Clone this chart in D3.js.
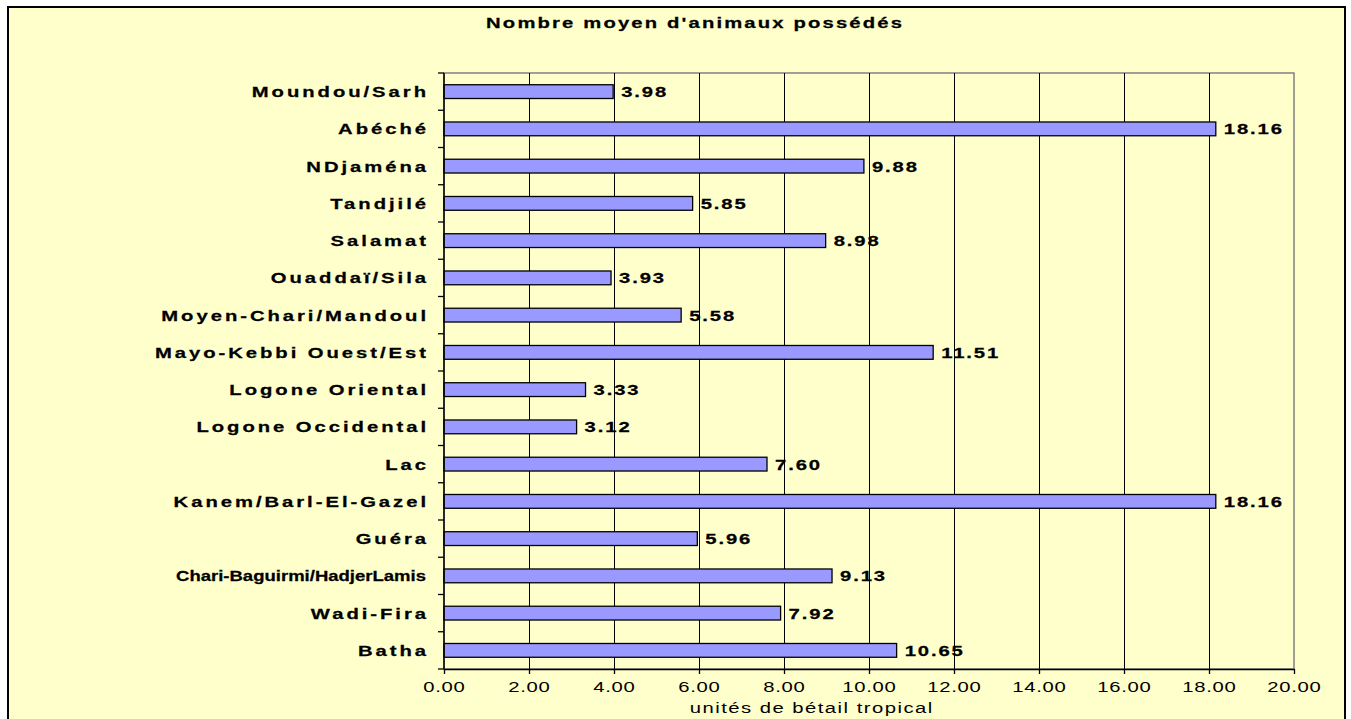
<!DOCTYPE html>
<html>
<head>
<meta charset="utf-8">
<script src="https://cdn.jsdelivr.net/npm/d3@7"></script>
<style>
  html, body { margin: 0; padding: 0; background: #fff; }
  svg { display: block; font-family: "Liberation Sans", Arial, sans-serif; }
</style>
</head>
<body>
<svg id="chart" width="1351" height="719"></svg>
<script>
// Regions, listed top to bottom as displayed
const regions = [
  "Moundou/Sarh", "Abéché", "NDjaména", "Tandjilé", "Salamat",
  "Ouaddaï/Sila", "Moyen-Chari/Mandoul", "Mayo-Kebbi Ouest/Est",
  "Logone Oriental", "Logone Occidental", "Lac", "Kanem/Barl-El-Gazel",
  "Guéra", "Chari-Baguirmi/HadjerLamis", "Wadi-Fira", "Batha"
];
// Average number of animals owned (tropical livestock units)
const animals = [
  3.98, 18.16, 9.88, 5.85, 8.98, 3.93, 5.58, 11.51,
  3.33, 3.12, 7.60, 18.16, 5.96, 9.13, 7.92, 10.65
];
const xTicks = [0, 2, 4, 6, 8, 10, 12, 14, 16, 18, 20];
const chartTitle = "Nombre moyen d'animaux possédés";
const xAxisTitle = "unités de bétail tropical";

const svg = d3.select("#chart");
const plot = { left: 444, right: 1294, top: 73, bottom: 669 };
const SX = 1.35;           // horizontal stretch of all chart text
const maxLabelWidth = 285; // labels wider than this get squeezed (screen px)
const squeezedWidth = 250;

// Places a horizontally stretched text element at (x, y)
function wideText(parent, x, y, str, opts) {
  const ls = opts.spacing || 0;
  const anchor = opts.anchor || "start";
  const g = parent.append("g").attr("transform", `translate(${x},${y}) scale(${SX},1)`);
  const t = g.append("text")
    .attr("x", anchor === "end" ? ls : anchor === "middle" ? ls / 2 : 0)
    .attr("text-anchor", anchor)
    .attr("font-size", opts.size)
    .attr("font-weight", opts.weight || "normal")
    .attr("letter-spacing", ls)
    .attr("fill", "#000")
    .text(str);
  if (opts.weight === "bold") t.attr("stroke", "#000").attr("stroke-width", 0.25);
  return t;
}

// Chart area background and frame
svg.append("rect")
  .attr("x", 8).attr("y", 7).attr("width", 1337).attr("height", 720)
  .attr("fill", "#FFFFCC").attr("stroke", "#000").attr("stroke-width", 2);

const x = d3.scaleLinear().domain([0, 20]).range([plot.left, plot.right]);
const y = d3.scaleBand().domain(regions).range([plot.top, plot.bottom])
  .paddingInner(0.63).paddingOuter(0.315);
const band = d3.scaleBand().domain(regions).range([plot.top, plot.bottom]);

// Plot area border (grey)
svg.append("rect")
  .attr("x", plot.left).attr("y", plot.top)
  .attr("width", plot.right - plot.left).attr("height", plot.bottom - plot.top)
  .attr("fill", "none").attr("stroke", "#808080").attr("stroke-width", 1.5);

// Vertical gridlines
svg.append("g").selectAll("line")
  .data(xTicks.slice(1, -1))
  .join("line")
  .attr("x1", d => Math.round(x(d)) + 0.5).attr("x2", d => Math.round(x(d)) + 0.5)
  .attr("y1", plot.top).attr("y2", plot.bottom)
  .attr("stroke", "#000").attr("stroke-width", 1);

// Bars
svg.append("g").selectAll("rect")
  .data(regions)
  .join("rect")
  .attr("x", x(0))
  .attr("y", d => y(d))
  .attr("width", (d, i) => x(animals[i]) - x(0))
  .attr("height", y.bandwidth())
  .attr("fill", "#9999FF")
  .attr("stroke", "#000").attr("stroke-width", 1.3);

// Value labels
const valueG = svg.append("g");
regions.forEach((r, i) => {
  wideText(valueG, x(animals[i]) + 8, y(r) + y.bandwidth() / 2 + 5.5,
    animals[i].toFixed(2), { size: 15, weight: "bold", spacing: 1.4 });
});

// Category axis
const yAxis = svg.append("g");
yAxis.append("line")
  .attr("x1", plot.left).attr("x2", plot.left).attr("y1", plot.top).attr("y2", plot.bottom)
  .attr("stroke", "#000").attr("stroke-width", 1.5);
yAxis.selectAll("line.tick")
  .data(d3.range(regions.length + 1))
  .join("line")
  .attr("class", "tick")
  .attr("x1", plot.left - 6).attr("x2", plot.left)
  .attr("y1", i => plot.top + i * band.step())
  .attr("y2", i => plot.top + i * band.step())
  .attr("stroke", "#000").attr("stroke-width", 1.3);
regions.forEach(r => {
  const t = wideText(yAxis, plot.left - 18, band(r) + band.bandwidth() / 2 + 5.5,
    r, { size: 15, weight: "bold", spacing: 2.2, anchor: "end" });
  // Very long labels are squeezed to fit the label column
  const w = t.node().getComputedTextLength();
  if (w * SX > maxLabelWidth) {
    t.attr("letter-spacing", 0).attr("x", 0)
      .attr("textLength", squeezedWidth / SX)
      .attr("lengthAdjust", "spacingAndGlyphs");
  }
});

// Value axis
const xAxis = svg.append("g")
  .attr("transform", `translate(0,${plot.bottom})`)
  .call(d3.axisBottom(x).tickValues(xTicks).tickFormat(() => "").tickSizeInner(5).tickSizeOuter(0));
xAxis.select(".domain").attr("stroke", "#000").attr("stroke-width", 1.5);
xAxis.selectAll(".tick line").attr("stroke", "#000").attr("stroke-width", 1.3);
const tickG = svg.append("g");
xTicks.forEach(v => {
  wideText(tickG, x(v), plot.bottom + 23, d3.format(".2f")(v),
    { size: 15, spacing: 0.5, anchor: "middle" });
});

// Axis title
wideText(svg, 811, 713, xAxisTitle, { size: 15, spacing: 1.1, anchor: "middle" });

// Chart title
wideText(svg, 694, 28, chartTitle, { size: 15, weight: "bold", spacing: 1.6, anchor: "middle" });
</script>
</body>
</html>
